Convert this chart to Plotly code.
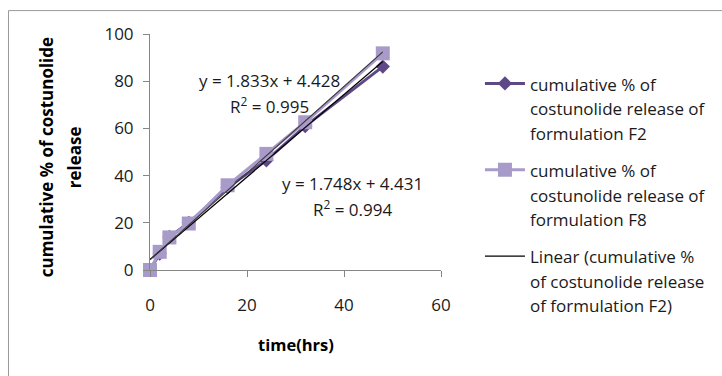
import plotly.graph_objects as go

# ---- data ----
time_hrs = [0, 2, 4, 8, 16, 24, 32, 48]
f2_release = [0, 7, 14, 20, 35, 46.5, 61, 86.2]
f8_release = [0, 7.7, 13.8, 19.7, 35.9, 49.2, 62.6, 91.8]
trend_x = [0, 48]
f2_fit = (1.748, 4.431)   # slope, intercept
f8_fit = (1.833, 4.428)
x_ticks = [0, 20, 40, 60]
y_ticks = [0, 20, 40, 60, 80, 100]

F2_COLOR = "#5E4886"
F8_COLOR = "#A99BC9"
FONT = "Open Sans"
TXT = "#1a1a1a"

def leg(lines):
    return "<br>".join('<span style="font-size:17px">%s</span>' % l for l in lines)

fig = go.Figure()
fig.add_trace(go.Scatter(
    x=time_hrs, y=f2_release, mode="lines+markers",
    line=dict(color=F2_COLOR, width=3),
    marker=dict(symbol="diamond", size=11, color=F2_COLOR),
    name=leg(["cumulative % of", "costunolide release of", "formulation F2"]),
    legendgroup="a", cliponaxis=False))
fig.add_trace(go.Scatter(
    x=time_hrs, y=f8_release, mode="lines+markers",
    line=dict(color=F8_COLOR, width=3),
    marker=dict(symbol="square", size=14, color=F8_COLOR),
    name=leg(["cumulative % of", "costunolide release of", "formulation F8"]),
    legendgroup="b", cliponaxis=False))
fig.add_trace(go.Scatter(
    x=trend_x, y=[f2_fit[0] * v + f2_fit[1] for v in trend_x], mode="lines",
    line=dict(color="#000000", width=1.2),
    name=leg(["Linear (cumulative %", "of costunolide release", "of formulation F2)"]),
    legendgroup="c"))
fig.add_trace(go.Scatter(
    x=trend_x, y=[f8_fit[0] * v + f8_fit[1] for v in trend_x], mode="lines",
    line=dict(color="#3a3a3a", width=1.2),
    showlegend=False))

eq_font = dict(family=FONT, size=17, color=TXT)
fig.add_annotation(x=24.55, y=80.4, text="y = %.3fx + %.3f" % f8_fit, showarrow=False, font=eq_font)
fig.add_annotation(x=24.55, y=69.8, text="R<sup>2</sup> = 0.995", showarrow=False, font=eq_font)
fig.add_annotation(x=41.8, y=36.5, text="y = %.3fx + %.3f" % f2_fit, showarrow=False, font=eq_font)
fig.add_annotation(x=41.8, y=25.9, text="R<sup>2</sup> = 0.994", showarrow=False, font=eq_font)

tfont = dict(family=FONT, size=17, color="#000000")
fig.add_annotation(xref="paper", yref="paper", x=-0.353, y=0.479, text="<b>cumulative % of costunolide</b>",
                   textangle=-90, showarrow=False, font=tfont, xanchor="center", yanchor="middle")
fig.add_annotation(xref="paper", yref="paper", x=-0.257, y=0.479, text="<b>release</b>",
                   textangle=-90, showarrow=False, font=tfont, xanchor="center", yanchor="middle")
fig.add_annotation(xref="paper", yref="paper", x=0.5, y=-0.314, text="<b>time(hrs)</b>",
                   showarrow=False, font=dict(family=FONT, size=16.5, color="#000000"),
                   xanchor="center", yanchor="middle")

# outer chart border
fig.add_shape(type="rect", xref="paper", yref="paper", x0=-0.4863, y0=-0.47, x1=2.0, y1=1.0992,
              line=dict(color="#9a9a9a", width=1), layer="below")

axis_common = dict(showgrid=False, zeroline=False, showline=True, linecolor="#868686", linewidth=1,
                   ticks="outside", ticklen=6, tickcolor="#868686",
                   tickfont=dict(family=FONT, size=17, color=TXT))
fig.update_xaxes(range=[0, 60], tickvals=x_ticks, ticklabelstandoff=14, **axis_common)
fig.update_yaxes(range=[0, 100], tickvals=y_ticks, ticklabelstandoff=6, **axis_common)

fig.update_layout(
    width=722, height=376,
    margin=dict(l=150, r=280, t=33.5, b=105.5),
    paper_bgcolor="white", plot_bgcolor="white",
    showlegend=True,
    legend=dict(x=1.13, y=0.87, xanchor="left", yanchor="top", valign="top",
                font=dict(family=FONT, size=18.8, color=TXT), tracegroupgap=10,
                bgcolor="rgba(0,0,0,0)", itemwidth=40, maxheight=500),
)
fig.write_html("out.html")
